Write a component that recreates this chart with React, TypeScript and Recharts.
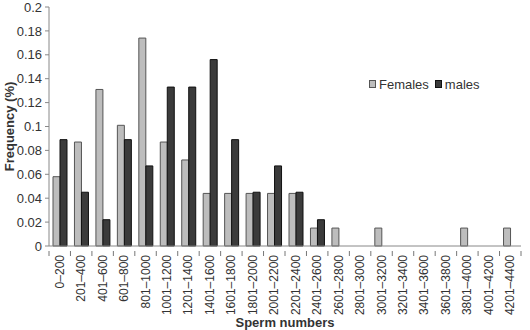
import { Bar, BarChart, XAxis, YAxis } from 'recharts'

const categories = [
  '0–200', '201–400', '401–600', '601–800', '801–1000', '1001–1200', '1201–1400', '1401–1600',
  '1601–1800', '1801–2000', '2001–2200', '2201–2400', '2401–2600', '2601–2800', '2801–3000',
  '3001–3200', '3201–3400', '3401–3600', '3601–3800', '3801–4000', '4001–4200', '4201–4400',
]
const females = [
  0.058, 0.087, 0.131, 0.101, 0.174, 0.087, 0.072, 0.044, 0.044, 0.044, 0.044,
  0.044, 0.015, 0.015, 0, 0.015, 0, 0, 0, 0.015, 0, 0.015,
]
const males = [
  0.089, 0.045, 0.022, 0.089, 0.067, 0.133, 0.133, 0.156, 0.089, 0.045, 0.067,
  0.045, 0.022, 0, 0, 0, 0, 0, 0, 0, 0, 0,
]
const yTicks = [0, 0.02, 0.04, 0.06, 0.08, 0.1, 0.12, 0.14, 0.16, 0.18, 0.2]

const data = categories.map((range, i) => ({ range, Females: females[i], males: males[i] }))

const W = 530
const H = 330
const M = { top: 7, right: 9, left: 0, bottom: 0 }
const Y_W = 49
const BAND = (W - M.left - M.right - Y_W) / categories.length
const FONT = '"Liberation Sans", Arial, sans-serif'
const FEMALE_FILL = '#bdbdbd'
const MALE_FILL = '#3b3b3b'

function XTick({ x, y, payload, index }: any) {
  const left = x - BAND / 2
  return (
    <g>
      <line x1={left} y1={y - 3} x2={left} y2={y + 2} stroke="#777" />
      {index === categories.length - 1 && <line x1={x + BAND / 2} y1={y - 3} x2={x + BAND / 2} y2={y + 2} stroke="#777" />}
      <text
        x={0}
        y={0}
        transform={`translate(${x + 4},${y + 1}) rotate(-90)`}
        textAnchor="end"
        fontSize={12}
        fill="#333"
        fontFamily={FONT}
      >
        {payload.value}
      </text>
    </g>
  )
}

function LegendBox() {
  const item = (label: string, fill: string, stroke: string) => (
    <span style={{ display: 'inline-flex', alignItems: 'center', marginRight: 6 }}>
      <span style={{ width: 5, height: 6, background: fill, border: `1px solid ${stroke}`, marginRight: 3 }} />
      {label}
    </span>
  )
  return (
    <div style={{ position: 'absolute', left: 369, top: 76, fontFamily: FONT, fontSize: 13, color: '#333', whiteSpace: 'nowrap' }}>
      {item('Females', FEMALE_FILL, '#555')}
      {item('males', MALE_FILL, '#111')}
    </div>
  )
}

export default function App() {
  return (
    <div style={{ position: 'absolute', left: 0, top: 0, width: W, height: H, background: '#fff' }}>
      <BarChart width={W} height={H} data={data} margin={M} barSize={7} barGap={0}>
        <XAxis
          dataKey="range"
          interval={0}
          height={84}
          stroke="#888"
          tickLine={false}
          tick={<XTick />}
          label={{ value: 'Sperm numbers', position: 'insideBottom', offset: 3, fontSize: 13, fontWeight: 'bold', fill: '#333', fontFamily: FONT }}
        />
        <YAxis
          width={Y_W}
          domain={[0, 0.2]}
          ticks={yTicks}
          interval={0}
          stroke="#888"
          tickSize={4}
          tickMargin={3}
          tick={{ fontSize: 13, fill: '#333', fontFamily: FONT }}
          label={{ value: 'Frequency (%)', angle: -90, position: 'insideLeft', offset: 9, fontSize: 13, fontWeight: 'bold', fill: '#333', fontFamily: FONT, style: { textAnchor: 'middle' } }}
        />
        <Bar dataKey="Females" fill={FEMALE_FILL} stroke="#555" strokeWidth={1} isAnimationActive={false} />
        <Bar dataKey="males" fill={MALE_FILL} stroke="#111" strokeWidth={1} isAnimationActive={false} />
      </BarChart>
      <LegendBox />
    </div>
  )
}
